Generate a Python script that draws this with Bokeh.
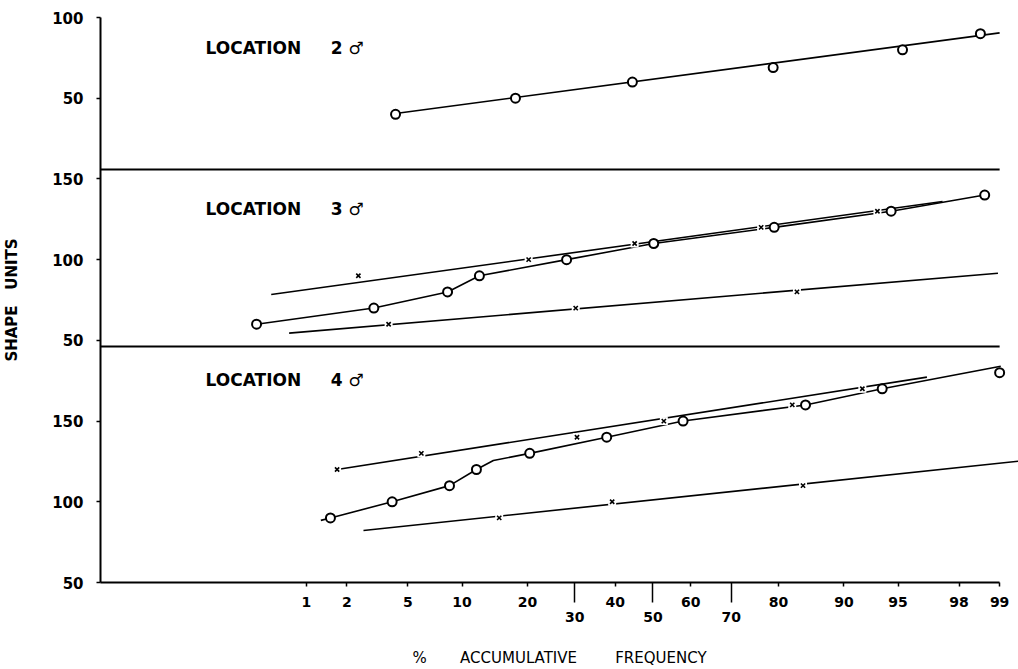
from statistics import NormalDist
from bokeh.plotting import figure
from bokeh.models import Range1d, LinearAxis, FixedTicker, Label
from bokeh.embed import file_html
from bokeh.resources import INLINE

# ---------------- data ----------------
freq_ticks_row1 = [1, 2, 5, 10, 20, 40, 60, 80, 90, 95, 98, 99]
freq_ticks_row2 = [30, 50, 70]
shape_ticks = [50, 100, 150, 200, 250, 300, 350, 400]
shape_tick_labels = ["50", "100", "150", "50", "100", "150", "50", "100"]
NB = "\u00a0"
panel_names = ["LOCATION" + NB * 5 + "2" + NB + "\u2642",
               "LOCATION" + NB * 5 + "3" + NB + "\u2642",
               "LOCATION" + NB * 5 + "4" + NB + "\u2642"]
panel_offsets = [300, 150, 0]
panel_label_val = [80.9, 131.1, 175.2]
divider_y = [305.8, 196.2]

# Location 2
loc2_o_pct = [4.2, 17.8, 44.5, 79.0, 95.3, 98.6]
loc2_o_val = [40, 50, 60, 69, 80, 90]
loc2_o_line_pct = [4.2, 99.0]
loc2_o_line_val = [40.5, 90.5]

# Location 3
loc3_o_pct = [0.39, 3.05, 8.4, 12.2, 28.1, 50.2, 79.2, 94.5, 98.7]
loc3_o_val = [60, 70, 80, 90, 100, 110, 120, 130, 140]
loc3_xa_pct = [2.4, 20.2, 45.1, 76.6, 93.4]
loc3_xa_val = [90, 100, 110, 120, 130]
loc3_xa_line_pct = [0.52, 97.4]
loc3_xa_line_val = [78.4, 136.0]
loc3_xb_pct = [3.8, 30.2, 83.3]
loc3_xb_val = [60, 70, 80]
loc3_xb_line_pct = [0.73, 98.97]
loc3_xb_line_val = [54.5, 91.6]

# Location 4
loc4_o_pct = [1.52, 4.0, 8.6, 11.8, 20.4, 37.8, 58.0, 84.7, 93.8, 99.0]
loc4_o_val = [90, 100, 110, 120, 130, 140, 150, 160, 170, 180]
loc4_o_line_pct = [1.29, 1.52, 4.0, 8.6, 11.8, 14.2, 20.4, 37.8, 58.0, 84.7, 93.8, 99.02]
loc4_o_line_val = [88.5, 90, 100, 110, 120, 125.6, 130, 140, 150, 160, 170, 184.0]
loc4_xa_pct = [1.7, 6.0, 30.5, 52.9, 82.5, 92.0]
loc4_xa_val = [120, 130, 140, 150, 160, 170]
loc4_xa_line_pct = [1.7, 96.7]
loc4_xa_line_val = [120, 177.2]
loc4_xb_pct = [15.1, 39.2, 84.3]
loc4_xb_val = [90, 100, 110]
loc4_xb_line_pct = [2.6, 99.3]
loc4_xb_line_val = [82.2, 125.2]

# ---------------- probability scale ----------------
_nd = NormalDist()


def z(p):
    return _nd.inv_cdf(p / 100.0)


def zs(ps):
    return [z(v) for v in ps]


def shift(vals, off):
    return [v + off for v in vals]


X_START, X_END = -3.708, 2.453
FONT = "DejaVu Sans"

p = figure(width=1018, height=669, output_backend="svg", toolbar_location=None,
           x_range=Range1d(X_START, X_END), y_range=Range1d(50, 400),
           min_border_left=100, min_border_right=0, min_border_top=17,
           min_border_bottom=87)
p.outline_line_color = None
p.xgrid.visible = False
p.ygrid.visible = False
p.background_fill_color = "white"

# ---- x axis (row 1 labels, short ticks; long minor ticks at 30/50/70)
ax = p.xaxis[0]
ax.ticker = FixedTicker(ticks=zs(freq_ticks_row1), minor_ticks=zs(freq_ticks_row2))
ax.major_label_overrides = {z(v): str(v) for v in freq_ticks_row1}
ax.bounds = (X_START, z(99))
ax.axis_line_width = 2
ax.axis_line_color = "black"
ax.major_tick_out = 4
ax.major_tick_in = 0
ax.minor_tick_out = 20
ax.minor_tick_in = 0
ax.major_tick_line_width = 1.5
ax.minor_tick_line_width = 1.5
ax.major_tick_line_color = "black"
ax.minor_tick_line_color = "black"
ax.major_label_standoff = -6
ax.major_label_text_font = FONT
ax.major_label_text_font_size = "14px"
ax.major_label_text_font_style = "bold"
ax.major_label_text_color = "black"

# ---- second row of x labels + axis title
ax2 = LinearAxis(ticker=FixedTicker(ticks=zs(freq_ticks_row2)),
                 major_label_overrides={z(v): str(v) for v in freq_ticks_row2},
                 axis_line_color=None, major_tick_line_color=None,
                 minor_tick_line_color=None, major_tick_out=0, major_tick_in=0,
                 major_label_standoff=2,
                 major_label_text_font=FONT, major_label_text_font_size="14px",
                 major_label_text_font_style="bold", major_label_text_color="black",
                 axis_label="%" + NB * 7 + "ACCUMULATIVE" + NB * 8 + "FREQUENCY",
                 axis_label_standoff=24, axis_label_text_font=FONT,
                 axis_label_text_font_size="15px", axis_label_text_font_style="normal",
                 axis_label_text_color="black")
p.add_layout(ax2, "below")

# ---- y axis
ay = p.yaxis[0]
ay.ticker = FixedTicker(ticks=shape_ticks)
ay.major_label_overrides = dict(zip(shape_ticks, shape_tick_labels))
ay.bounds = (50, 400)
ay.axis_line_width = 2
ay.axis_line_color = "black"
ay.major_tick_out = 4
ay.major_tick_in = 0
ay.major_tick_line_width = 1.5
ay.major_tick_line_color = "black"
ay.minor_tick_line_color = None
ay.major_label_standoff = 13
ay.major_label_text_font = FONT
ay.major_label_text_font_size = "15px"
ay.major_label_text_font_style = "bold"
ay.major_label_text_color = "black"
ay.axis_label = "SHAPE" + NB * 3 + "UNITS"
ay.axis_label_standoff = 28
ay.axis_label_text_font = FONT
ay.axis_label_text_font_size = "15px"
ay.axis_label_text_font_style = "bold"
ay.axis_label_text_color = "black"

# ---- panel dividers
p.segment(x0=[X_START] * len(divider_y), y0=divider_y,
          x1=[z(99)] * len(divider_y), y1=divider_y,
          line_color="black", line_width=2)

LW = 1.6


def draw_line(pcts, vals, off):
    p.line(zs(pcts), shift(vals, off), line_color="black", line_width=LW)


def draw_x(pcts, vals, off):
    xs, ys = zs(pcts), shift(vals, off)
    p.scatter(xs, ys, marker="square", size=8, fill_color="white", line_color=None)
    p.scatter(xs, ys, marker="x", size=6, line_color="black", line_width=1.6)


def draw_o(pcts, vals, off):
    p.scatter(zs(pcts), shift(vals, off), marker="circle", size=9,
              fill_color="white", line_color="black", line_width=2)


# Location 2
o2 = panel_offsets[0]
draw_line(loc2_o_line_pct, loc2_o_line_val, o2)
draw_o(loc2_o_pct, loc2_o_val, o2)

# Location 3
o3 = panel_offsets[1]
draw_line(loc3_xa_line_pct, loc3_xa_line_val, o3)
draw_line(loc3_xb_line_pct, loc3_xb_line_val, o3)
draw_line(loc3_o_pct, loc3_o_val, o3)
draw_x(loc3_xa_pct, loc3_xa_val, o3)
draw_x(loc3_xb_pct, loc3_xb_val, o3)
draw_o(loc3_o_pct, loc3_o_val, o3)

# Location 4
o4 = panel_offsets[2]
draw_line(loc4_xa_line_pct, loc4_xa_line_val, o4)
draw_line(loc4_xb_line_pct, loc4_xb_line_val, o4)
draw_line(loc4_o_line_pct, loc4_o_line_val, o4)
draw_x(loc4_xa_pct, loc4_xa_val, o4)
draw_x(loc4_xb_pct, loc4_xb_val, o4)
draw_o(loc4_o_pct, loc4_o_val, o4)

# panel titles
LABEL_X = -3.003
for name, off, v in zip(panel_names, panel_offsets, panel_label_val):
    p.add_layout(Label(x=LABEL_X, y=v + off, text=name, text_font=FONT,
                       text_font_size="17px", text_font_style="bold",
                       text_color="black", text_baseline="middle",
                       text_align="left"))

open("out.html", "w").write(file_html(p, INLINE))
